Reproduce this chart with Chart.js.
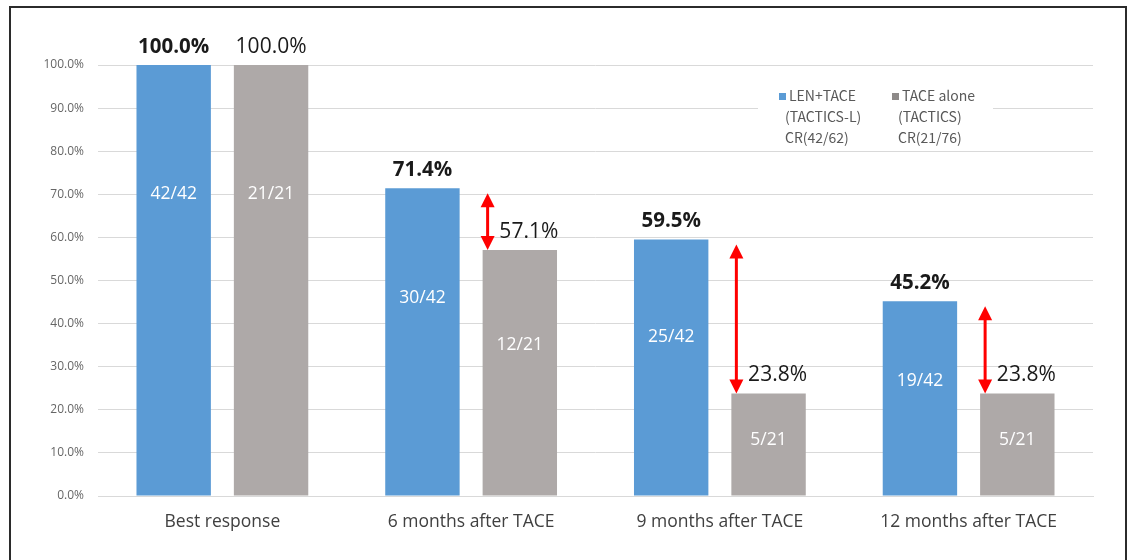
<!DOCTYPE html>
<html>
<head>
<meta charset="utf-8">
<script src="https://cdn.jsdelivr.net/npm/chart.js@4.4.1/dist/chart.umd.min.js"></script>
<style>
  html, body { margin: 0; padding: 0; background: #fff; }
  #wrap { width: 1130px; height: 560px; position: relative; }
</style>
</head>
<body>
<div id="wrap"><canvas id="chart" width="1130" height="560"></canvas></div>
<script>
// Data
const categories = ['Best response', '6 months after TACE', '9 months after TACE', '12 months after TACE'];
const lenTaceValues = [100.0, 71.4, 59.5, 45.2];
const taceAloneValues = [100.0, 57.1, 23.8, 23.8];
const lenTaceCounts = ['42/42', '30/42', '25/42', '19/42'];
const taceAloneCounts = ['21/21', '12/21', '5/21', '5/21'];
const legendLenTace = ['LEN+TACE', '(TACTICS-L)', 'CR(42/62)'];
const legendTaceAlone = ['TACE alone', '(TACTICS)', 'CR(21/76)'];
const arrowGroups = [1, 2, 3];

const blue = '#5B9BD5';
const gray = '#AEA9A8';

// Rahmen + Hintergrund
const framePlugin = {
    id: 'frame',
    beforeDraw(chart) {
        const ctx = chart.ctx;
        ctx.save();
        ctx.fillStyle = '#fff';
        ctx.fillRect(0, 0, chart.width, chart.height);
        ctx.strokeStyle = '#2b2b2b';
        ctx.lineWidth = 2;
        ctx.strokeRect(10, 7, 1116, 570);
        ctx.restore();
    }
};

// Beschriftungen auf und in den Balken
const labelPlugin = {
    id: 'labels',
    afterDatasetsDraw(chart) {
        const ctx = chart.ctx;
        const y = chart.scales.y;
        ctx.save();
        ctx.textAlign = 'center';
        ctx.textBaseline = 'middle';
        chart.data.datasets.forEach((ds, di) => {
            const meta = chart.getDatasetMeta(di);
            const counts = di === 0 ? lenTaceCounts : taceAloneCounts;
            meta.data.forEach((bar, i) => {
                const v = ds.data[i];
                // Wert oben
                ctx.fillStyle = '#1a1a1a';
                ctx.font = di === 0 ? 'bold 20.5px "Open Sans", sans-serif' : '21px "Open Sans", sans-serif';
                const dx = (di === 1 && i > 0) ? 9 : 0;
                ctx.fillText(v.toFixed(1) + '%', bar.x + dx, bar.y - 18);
                // Anzahl innen
                ctx.fillStyle = '#fff';
                ctx.font = '17.5px "Open Sans", sans-serif';
                const inner = 0.5 * v + 0.2 * v * v / 100;
                ctx.fillText(counts[i], bar.x, y.getPixelForValue(inner));
            });
        });
        ctx.restore();
    }
};

// Rote Doppelpfeile
const arrowPlugin = {
    id: 'arrows',
    afterDatasetsDraw(chart) {
        const ctx = chart.ctx;
        const y = chart.scales.y;
        const grayMeta = chart.getDatasetMeta(1);
        ctx.save();
        ctx.strokeStyle = '#FF0000';
        ctx.fillStyle = '#FF0000';
        ctx.lineWidth = 3;
        arrowGroups.forEach(i => {
            const bar = grayMeta.data[i];
            const x = bar.x - bar.width / 2 + 5;
            const top = y.getPixelForValue(lenTaceValues[i]) + 5;
            const bot = y.getPixelForValue(taceAloneValues[i]);
            ctx.beginPath();
            ctx.moveTo(x, top + 12);
            ctx.lineTo(x, bot - 12);
            ctx.stroke();
            ctx.beginPath();
            ctx.moveTo(x, top);
            ctx.lineTo(x - 7, top + 14);
            ctx.lineTo(x + 7, top + 14);
            ctx.closePath();
            ctx.fill();
            ctx.beginPath();
            ctx.moveTo(x, bot);
            ctx.lineTo(x - 7, bot - 14);
            ctx.lineTo(x + 7, bot - 14);
            ctx.closePath();
            ctx.fill();
        });
        ctx.restore();
    }
};

// Legende oben rechts
const legendPlugin = {
    id: 'customLegend',
    afterDatasetsDraw(chart) {
        const ctx = chart.ctx;
        ctx.save();
        ctx.fillStyle = '#fff';
        ctx.fillRect(758, 82, 235, 66);
        ctx.font = '14px "Noto Sans CJK JP", "Noto Sans", sans-serif';
        ctx.textBaseline = 'middle';
        ctx.textAlign = 'left';
        const cols = [
            { x: 779, color: blue, lines: legendLenTace },
            { x: 892, color: '#8E8A89', lines: legendTaceAlone }
        ];
        cols.forEach(c => {
            ctx.fillStyle = c.color;
            ctx.fillRect(c.x, 93, 7, 7);
            ctx.fillStyle = '#595959';
            c.lines.forEach((t, k) => {
                ctx.fillText(t, k === 0 ? c.x + 10 : c.x + 6, 96 + k * 21);
            });
        });
        ctx.restore();
    }
};

const chart = new Chart(document.getElementById('chart'), {
    type: 'bar',
    data: {
        labels: categories,
        datasets: [
            { label: 'LEN+TACE', data: lenTaceValues, backgroundColor: blue },
            { label: 'TACE alone', data: taceAloneValues, backgroundColor: gray }
        ]
    },
    options: {
        responsive: false,
        animation: false,
        devicePixelRatio: 1,
        categoryPercentage: 0.783,
        barPercentage: 0.764,
        layout: { padding: { left: 10, right: 37, top: 65, bottom: 0 } },
        plugins: {
            legend: { display: false },
            tooltip: { enabled: false }
        },
        scales: {
            x: {
                grid: { display: false, drawTicks: false },
                border: { display: true, color: '#D9D9D9' },
                ticks: {
                    color: '#404040',
                    padding: 16,
                    font: { size: 17.5, family: '"Open Sans", sans-serif' }
                },
                afterFit(scale) { scale.height = 64; }
            },
            y: {
                min: 0,
                max: 100,
                grid: { color: '#D9D9D9', drawTicks: false },
                border: { display: false },
                ticks: {
                    stepSize: 10,
                    padding: 14,
                    color: '#666666',
                    font: { size: 12, family: '"Open Sans", sans-serif' },
                    callback: v => v.toFixed(1) + '%'
                },
                afterFit(scale) { scale.width = 88; }
            }
        }
    },
    plugins: [framePlugin, labelPlugin, arrowPlugin, legendPlugin]
});
</script>
</body>
</html>
